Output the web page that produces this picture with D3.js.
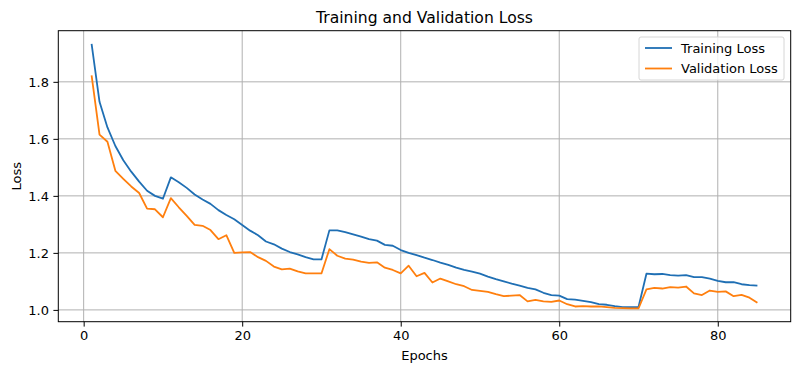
<!DOCTYPE html>
<html>
<head>
<meta charset="utf-8">
<script src="https://cdn.jsdelivr.net/npm/d3@7"></script>
<style>
  body { margin: 0; background: #fff; }
  svg { font-family: "DejaVu Sans", sans-serif; }
</style>
</head>
<body>
<div id="chart"></div>
<script>
// data
var epochs = d3.range(1, 86);

var trainLoss = [
  1.933, 1.730, 1.640, 1.575, 1.525, 1.485, 1.450, 1.418, 1.400, 1.390,
  1.465, 1.448, 1.428, 1.405, 1.387, 1.372, 1.350, 1.333, 1.318, 1.298,
  1.278, 1.262, 1.240, 1.230, 1.215, 1.203, 1.195, 1.185, 1.177, 1.177,
  1.279, 1.279, 1.273, 1.265, 1.257, 1.248, 1.243, 1.228, 1.225, 1.210,
  1.200, 1.192, 1.183, 1.175, 1.166, 1.158, 1.148, 1.140, 1.134, 1.127,
  1.117, 1.108, 1.100, 1.092, 1.085, 1.077, 1.072, 1.060, 1.052, 1.050,
  1.038, 1.036, 1.032, 1.027, 1.020, 1.018, 1.013, 1.010, 1.010, 1.010,
  1.127, 1.125, 1.126, 1.122, 1.120, 1.122, 1.115, 1.115, 1.110, 1.102,
  1.097, 1.097, 1.090, 1.087, 1.085
];

var valLoss = [
  1.823, 1.615, 1.590, 1.488, 1.460, 1.433, 1.410, 1.355, 1.353, 1.325,
  1.392, 1.360, 1.330, 1.298, 1.295, 1.280, 1.248, 1.262, 1.200, 1.202,
  1.203, 1.185, 1.172, 1.152, 1.142, 1.145, 1.135, 1.128, 1.128, 1.128,
  1.213, 1.190, 1.180, 1.176, 1.169, 1.165, 1.167, 1.148, 1.140, 1.128,
  1.155, 1.118, 1.130, 1.096, 1.110, 1.100, 1.090, 1.083, 1.070, 1.067,
  1.063, 1.055, 1.048, 1.050, 1.052, 1.030, 1.035, 1.030, 1.028, 1.033,
  1.020, 1.012, 1.013, 1.012, 1.012, 1.010, 1.007, 1.006, 1.005, 1.005,
  1.072, 1.077, 1.075, 1.080, 1.078, 1.082, 1.058, 1.052, 1.068, 1.063,
  1.065, 1.048, 1.053, 1.043, 1.025
];

var xTicks = [0, 20, 40, 60, 80];
var yTicks = [1.0, 1.2, 1.4, 1.6, 1.8];
var seriesNames = ["Training Loss", "Validation Loss"];
var colors = ["#1f6fb4", "#ff7f0e"];

// sizes
var svgWidth = 800;
var svgHeight = 372;

var margin = {
  top: 30.7,
  right: 9.3,
  bottom: 50.3,
  left: 58.3
};

var width = svgWidth - margin.left - margin.right;
var height = svgHeight - margin.top - margin.bottom;

var svg = d3.select("#chart")
  .append("svg")
  .attr("width", svgWidth)
  .attr("height", svgHeight);

var chartGroup = svg.append("g")
  .attr("transform", `translate(${margin.left}, ${margin.top})`);

// matplotlib style 5% padding
var allVals = trainLoss.concat(valLoss);
var xPad = (d3.max(epochs) - d3.min(epochs)) * 0.05;
var yPad = (d3.max(allVals) - d3.min(allVals)) * 0.05;

var xScale = d3.scaleLinear()
  .domain([d3.min(epochs) - xPad, d3.max(epochs) + xPad])
  .range([0, width]);

var yScale = d3.scaleLinear()
  .domain([d3.min(allVals) - yPad, d3.max(allVals) + yPad])
  .range([height, 0]);

// grid
chartGroup.append("g")
  .selectAll("line")
  .data(xTicks)
  .enter()
  .append("line")
  .attr("x1", d => xScale(d))
  .attr("x2", d => xScale(d))
  .attr("y1", 0)
  .attr("y2", height)
  .attr("stroke", "#b0b0b0")
  .attr("stroke-width", 1);

chartGroup.append("g")
  .selectAll("line")
  .data(yTicks)
  .enter()
  .append("line")
  .attr("x1", 0)
  .attr("x2", width)
  .attr("y1", d => yScale(d))
  .attr("y2", d => yScale(d))
  .attr("stroke", "#b0b0b0")
  .attr("stroke-width", 1);

// axes
var bottomAxis = d3.axisBottom(xScale)
  .tickValues(xTicks)
  .tickFormat(d3.format("d"))
  .tickSize(4.9)
  .tickPadding(4);

var leftAxis = d3.axisLeft(yScale)
  .tickValues(yTicks)
  .tickFormat(d3.format(".1f"))
  .tickSize(4.9)
  .tickPadding(4.5);

var xAxis = chartGroup.append("g")
  .attr("transform", `translate(0, ${height})`)
  .call(bottomAxis);

var yAxis = chartGroup.append("g")
  .call(leftAxis);

[xAxis, yAxis].forEach(function(ax) {
  ax.select(".domain").remove();
  ax.selectAll("line").attr("stroke", "#000").attr("stroke-width", 1);
  ax.selectAll("text")
    .attr("fill", "#000")
    .attr("font-size", "13px")
    .attr("font-family", "DejaVu Sans, sans-serif");
});

// lines
var line = d3.line()
  .x((d, i) => xScale(epochs[i]))
  .y(d => yScale(d));

[trainLoss, valLoss].forEach(function(series, i) {
  chartGroup.append("path")
    .datum(series)
    .attr("fill", "none")
    .attr("stroke", colors[i])
    .attr("stroke-width", 1.8)
    .attr("stroke-linejoin", "round")
    .attr("d", line);
});

// frame
chartGroup.append("rect")
  .attr("x", 0)
  .attr("y", 0)
  .attr("width", width)
  .attr("height", height)
  .attr("fill", "none")
  .attr("stroke", "#000")
  .attr("stroke-width", 1);

// title and labels
svg.append("text")
  .attr("x", margin.left + width / 2)
  .attr("y", 22.5)
  .attr("text-anchor", "middle")
  .attr("font-size", "15.6px")
  .text("Training and Validation Loss");

svg.append("text")
  .attr("x", margin.left + width / 2)
  .attr("y", 360)
  .attr("text-anchor", "middle")
  .attr("font-size", "13px")
  .text("Epochs");

svg.append("text")
  .attr("transform", `translate(21, ${margin.top + height / 2}) rotate(-90)`)
  .attr("text-anchor", "middle")
  .attr("font-size", "13px")
  .text("Loss");

// legend
var legend = svg.append("g")
  .attr("transform", "translate(639, 37)");

legend.append("rect")
  .attr("width", 145)
  .attr("height", 43)
  .attr("rx", 2)
  .attr("fill", "#fff")
  .attr("fill-opacity", 0.8)
  .attr("stroke", "#d6d6d6");

seriesNames.forEach(function(name, i) {
  var y = 11 + i * 20.5;
  legend.append("line")
    .attr("x1", 6)
    .attr("x2", 33)
    .attr("y1", y)
    .attr("y2", y)
    .attr("stroke", colors[i])
    .attr("stroke-width", 1.8);
  legend.append("text")
    .attr("x", 42)
    .attr("y", y + 4.5)
    .attr("font-size", "13px")
    .text(name);
});
</script>
</body>
</html>
